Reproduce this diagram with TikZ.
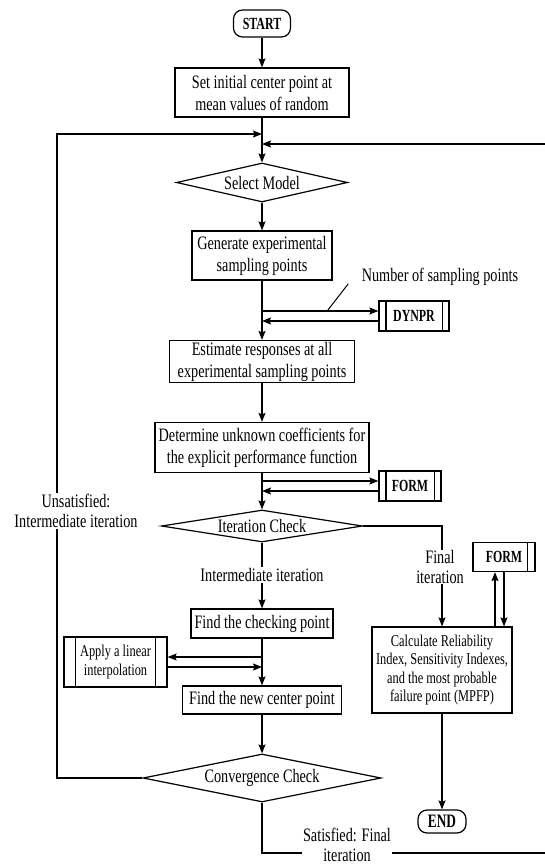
\documentclass[tikz,border=0pt]{standalone}
\usepackage{fontspec}
\setmainfont{Liberation Serif}[FakeStretch=0.75]
\newfontfamily\condfont{Liberation Serif}[FakeStretch=0.7]
\usetikzlibrary{arrows.meta,shapes.geometric,calc}

\newcommand{\bigtxt}{\fontsize{19}{22}\selectfont}
\newcommand{\smalltxt}{\fontsize{16.5}{18.5}\selectfont}
\newcommand{\labtxt}{\fontsize{19}{19.5}\selectfont}
\newcommand{\boldtxt}{\condfont\bfseries\fontsize{17}{19}\selectfont}

\tikzset{
    proc/.style={draw, align=center, inner sep=1pt, font=\bigtxt},
    term/.style={draw, rounded corners=9pt, inner sep=1pt, font=\boldtxt},
    decide/.style={draw, diamond, inner sep=0pt, font=\bigtxt},
    subrout/.style={draw, align=center, inner sep=1pt,
        append after command={\pgfextra{\let\subnode\tikzlastnode}
            ([xshift=#1]\subnode.north west) edge ([xshift=#1]\subnode.south west)
            ([xshift=-#1]\subnode.north east) edge ([xshift=-#1]\subnode.south east)}},
    subrout/.default=7.5pt,
    subroutr/.style={draw, align=center, inner sep=1pt,
        append after command={\pgfextra{\let\subnode\tikzlastnode}
            ([xshift=-#1]\subnode.north east) edge ([xshift=-#1]\subnode.south east)}},
    subroutr/.default=8.5pt,
    lab/.style={fill=white, align=center, inner sep=1pt, font=\labtxt},
    arr/.style={-{Stealth[length=9pt,width=7pt,inset=1.5pt]}}
}

\begin{document}
\begin{tikzpicture}[x=1pt, y=-1pt, line width=1.2pt]
    \useasboundingbox (0,0) rectangle (545,868);

    % main column
    \node[term, minimum width=57pt, minimum height=27pt] (start) at (262,23.5) {START};
    \node[proc, minimum width=174pt, minimum height=49pt] (init) at (262,92.5)
        {Set initial center point at\\mean values of random};
    \node[decide, minimum width=171pt, minimum height=39pt, aspect=4.4] (sel) at (262,182.5) {Select Model};
    \node[proc, minimum width=140pt, minimum height=49pt] (gen) at (262,255.5)
        {Generate experimental\\sampling points};
    \node[subrout, font=\boldtxt, minimum width=70pt, minimum height=30pt] (dynpr) at (414,316) {DYNPR};
    \node[proc, minimum width=185pt, minimum height=42pt] (est) at (262,361.5)
        {Estimate responses at all\\experimental sampling points};
    \node[proc, minimum width=214pt, minimum height=50pt] (det) at (262,447.5)
        {Determine unknown coefficients for\\the explicit performance function};
    \node[subrout, font=\boldtxt, minimum width=62pt, minimum height=30pt] (form1) at (410,486) {FORM};
    \node[decide, minimum width=201pt, minimum height=32pt, aspect=6.3] (iter) at (262,526) {Iteration Check};
    \node[proc, minimum width=142pt, minimum height=29pt] (chk) at (262,623.5) {Find the checking point};
    \node[subrout=12pt, font=\smalltxt, minimum width=103pt, minimum height=50pt] (apply) at (115.5,662)
        {Apply a linear\\interpolation};
    \node[proc, minimum width=159pt, minimum height=28pt] (newc) at (262,700) {Find the new center point};
    \node[decide, minimum width=238pt, minimum height=48pt, aspect=4.9] (conv) at (262,778) {Convergence Check};

    % right column
    \node[subroutr, font=\boldtxt, minimum width=62pt, minimum height=29pt] (form2) at (504,557) {FORM};
    \node[proc, font=\smalltxt, minimum width=140pt, minimum height=86pt] (calc) at (442,670)
        {Calculate Reliability\\Index, Sensitivity Indexes,\\and the most probable\\failure point (MPFP)};
    \node[term, font=\condfont\bfseries\fontsize{19}{20}\selectfont, minimum width=48pt, minimum height=23pt] (end) at (442,821.5) {END};

    % free ends on the main line
    \coordinate (backl) at (262,134);
    \coordinate (backr) at (262,144);
    \coordinate (dy1) at ([yshift=5pt]dynpr.west);
    \coordinate (dy2) at ([yshift=-5pt]dynpr.west);
    \coordinate (fm1) at ([yshift=5pt]form1.west);
    \coordinate (fm2) at ([yshift=-5pt]form1.west);
    \coordinate (ap1) at ([yshift=5pt]apply.east);
    \coordinate (ap2) at ([yshift=-5pt]apply.east);
    \coordinate (fu) at ([xshift=-9pt]form2.south);

    \draw[arr] (start) -- (init);
    \draw[arr] (init) -- (sel);
    \draw[arr] (sel) -- (gen);
    \draw[arr] (gen.south |- dy1) -- (dy1);
    \draw[arr] (dy2) -- (gen.south |- dy2);
    \draw[arr] (gen) -- (est);
    \draw[arr] (est) -- (det);
    \draw[arr] (det.south |- fm1) -- (fm1);
    \draw[arr] (fm2) -- (det.south |- fm2);
    \draw[arr] (det) -- (iter);
    \draw[arr] (iter) -- (chk);
    \draw[arr] (chk.south |- ap1) -- (ap1);
    \draw[arr] (ap2) -- (chk.south |- ap2);
    \draw[arr] (chk) -- (newc);
    \draw[arr] (newc) -- (conv);

    % loops back to the top
    \draw[arr] (conv.west) -- (57,778) |- (backl);
    \draw[arr] (conv.south) |- (552,853) |- (backr);

    % final branch
    \draw[arr] (iter.east) -| (calc.north);
    \draw[arr] (fu |- calc.north) -- (fu);
    \draw[arr] (form2.south) -- (form2.south |- calc.north);
    \draw[arr] (calc) -- (end);

    % labels
    \node[lab] (numlab) at (440,276.5) {Number of sampling points};
    \draw[line width=1pt] ($(gen.south |- dy1)!0.56!(dy1)$) -- ([xshift=-12pt,yshift=3pt]numlab.south west);
    \node[lab] (unsat) at (76,511) {Unsatisfied:\\Intermediate iteration};
    \node[lab] (intlab) at (262,575) {Intermediate iteration};
    \node[lab] (finlab) at (440,567) {Final\\iteration};
    \node[lab] (satlab) at (347,845) {Satisfied: Final\\iteration};
\end{tikzpicture}
\end{document}
